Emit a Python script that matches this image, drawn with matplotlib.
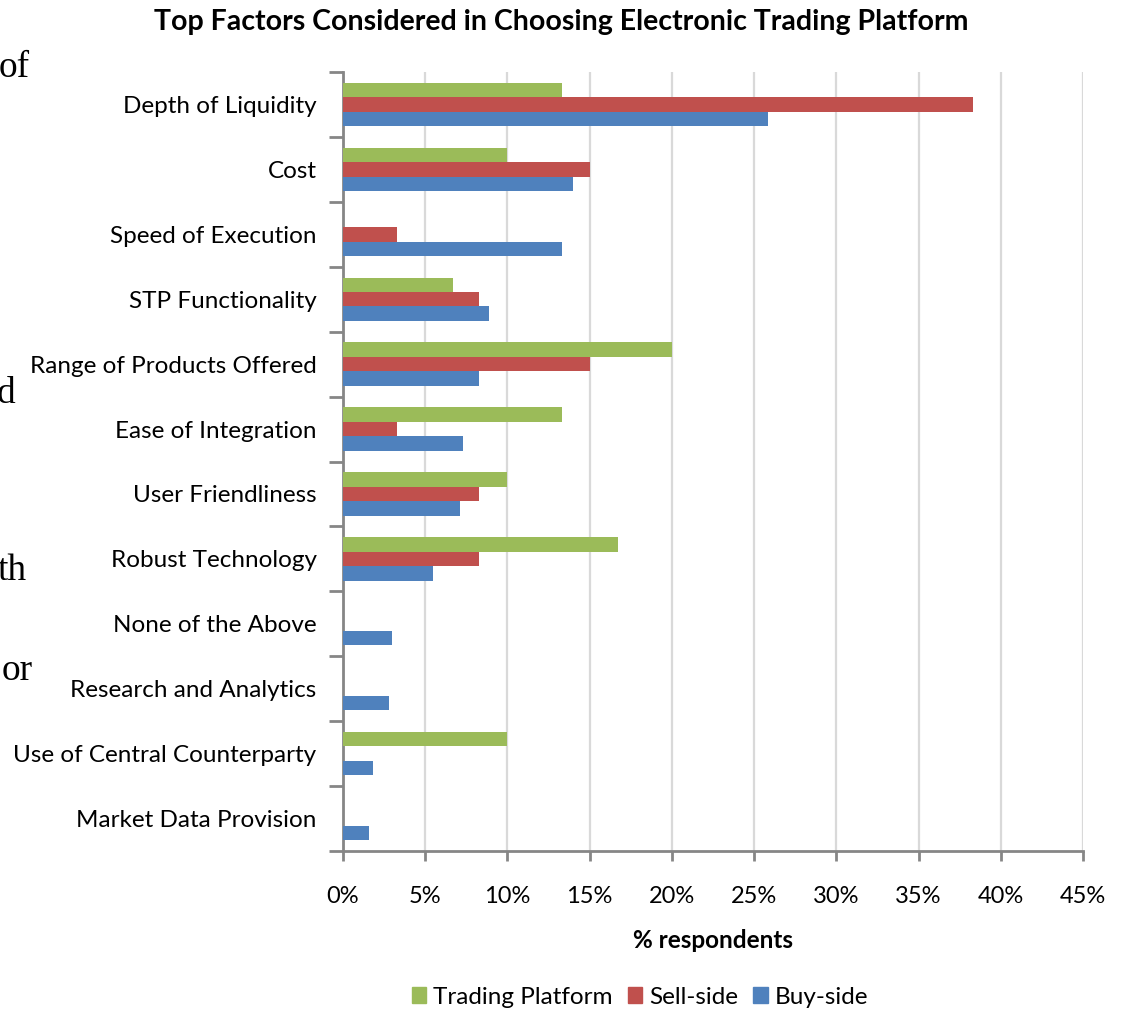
import matplotlib
matplotlib.use("Agg")
import matplotlib.pyplot as plt
from matplotlib.patches import Patch
import numpy as np

# categories, top to bottom
factors = [
    "Depth of Liquidity", "Cost", "Speed of Execution", "STP Functionality",
    "Range of Products Offered", "Ease of Integration", "User Friendliness",
    "Robust Technology", "None of the Above", "Research and Analytics",
    "Use of Central Counterparty", "Market Data Provision",
]
# % respondents per group
trading_platform = [13.3, 10.0, 0.0, 6.7, 20.0, 13.3, 10.0, 16.7, 0.0, 0.0, 10.0, 0.0]
sell_side = [38.3, 15.0, 3.3, 8.3, 15.0, 3.3, 8.3, 8.3, 0.0, 0.0, 0.0, 0.0]
buy_side = [25.85, 14.0, 13.3, 8.85, 8.3, 7.3, 7.1, 5.5, 3.0, 2.8, 1.8, 1.6]
x_ticks = [0, 5, 10, 15, 20, 25, 30, 35, 40, 45]

GREEN, RED, BLUE = "#9BBB59", "#C0504D", "#4F81BD"
AXIS_GREY = "#868686"

plt.rcParams["font.family"] = ["Lato", "DejaVu Sans"]

W, H = 1123, 1011
fig = plt.figure(figsize=(W / 100, H / 100), dpi=100)
ax = fig.add_axes([343 / W, 1 - 851 / H, (1083 - 343) / W, (851 - 72) / H])

# excel style: gap width 150% -> bar = 1 / 4.5
bh = 1 / 4.5
pos = np.arange(len(factors))
ax.barh(pos - bh, trading_platform, height=bh, color=GREEN, zorder=3)
ax.barh(pos, sell_side, height=bh, color=RED, zorder=3)
ax.barh(pos + bh, buy_side, height=bh, color=BLUE, zorder=3)

ax.set_ylim(len(factors) - 0.5, -0.5)
ax.set_xlim(0, 45)

# y ticks between categories, labels at centres
ax.set_yticks(np.arange(len(factors) + 1) - 0.5)
ax.set_yticklabels([])
ax.set_yticks(pos, minor=True)
ax.set_yticklabels(factors, minor=True, fontsize=17.5)
ax.tick_params(axis="y", which="major", length=10, width=2, color=AXIS_GREY, direction="out")
ax.tick_params(axis="y", which="minor", length=0, pad=19)

ax.set_xticks(x_ticks)
ax.set_xticklabels([f"{t}%" for t in x_ticks], fontsize=17)
ax.tick_params(axis="x", length=7, width=2, color=AXIS_GREY, pad=18)

ax.grid(axis="x", color="#D9D9D9", linewidth=1.6, zorder=0)
for side in ["top", "right"]:
    ax.spines[side].set_visible(False)
for side in ["left", "bottom"]:
    ax.spines[side].set_color(AXIS_GREY)
    ax.spines[side].set_linewidth(2)

ax.set_xlabel("% respondents", fontsize=17.5, fontweight="bold", labelpad=16)

fig.text(0.5, 1 - 22 / H, "Top Factors Considered in Choosing Electronic Trading Platform",
         ha="center", va="center", fontsize=20.5, fontweight="bold")

handles = [Patch(color=GREEN, label="Trading Platform"),
           Patch(color=RED, label="Sell-side"),
           Patch(color=BLUE, label="Buy-side")]
fig.legend(handles=handles, loc="center", bbox_to_anchor=(640 / W, 1 - 997 / H),
           ncol=3, frameon=False, fontsize=17.5, handlelength=0.6, handleheight=0.6,
           handletextpad=0.3, columnspacing=0.6)

# fragments of the surrounding document text at the left edge
for txt, x, y in [("of", 30, 77), ("d", 15, 403), ("th", 27, 580), ("or", 33, 680)]:
    fig.text(x / W, 1 - y / H, txt, ha="right", va="baseline", fontsize=27,
             family="Liberation Serif")

fig.savefig("out.png", dpi=100)
